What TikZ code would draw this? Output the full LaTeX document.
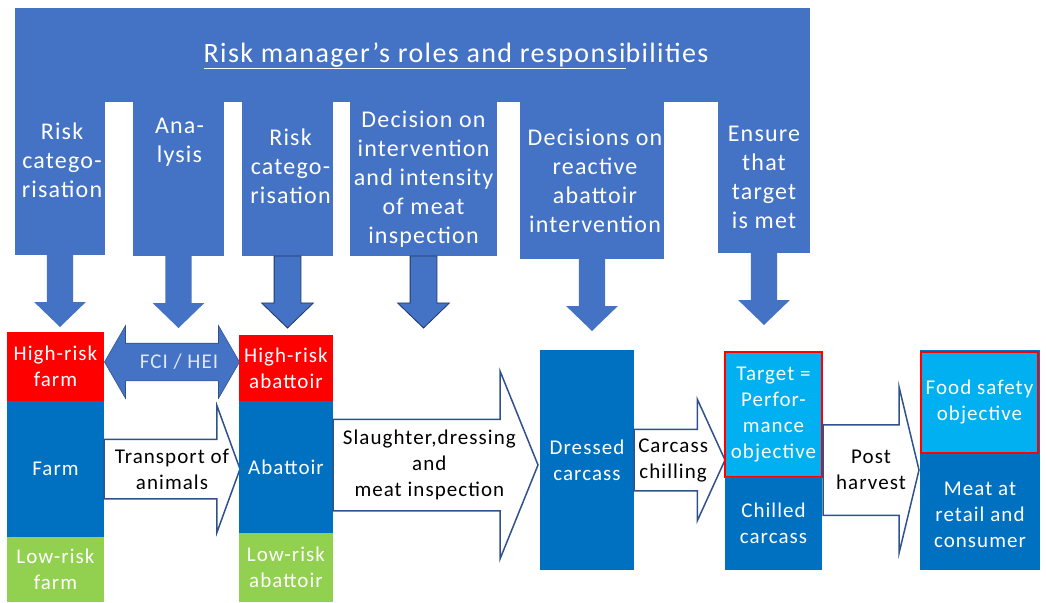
\documentclass[tikz,border=0pt]{standalone}
\usepackage{fontspec}
\setmainfont{Carlito}[LetterSpace=5]
\usetikzlibrary{shapes.arrows,positioning,calc}
\definecolor{rolesblue}{RGB}{68,114,196}
\definecolor{stageblue}{RGB}{0,112,192}
\definecolor{targetblue}{RGB}{0,176,240}
\definecolor{riskred}{RGB}{255,0,0}
\definecolor{riskgreen}{RGB}{146,208,80}
\definecolor{edgeblue}{RGB}{47,82,143}
\definecolor{edgedark}{RGB}{31,56,100}
\definecolor{paleblue}{RGB}{222,232,246}

\begin{document}
\begin{tikzpicture}[
  x=1pt, y=-1pt,
  banner/.style={rectangle, fill=rolesblue, inner sep=0pt, outer sep=0pt, anchor=north west},
  roletext/.style={text=white, align=center, inner sep=0pt,
                   font=\fontsize{24}{29}\selectfont},
  stage/.style={rectangle, fill=stageblue, text=white, align=center, inner sep=0pt,
                outer sep=0pt, anchor=north west, font=\fontsize{21}{26}\selectfont},
  goal/.style={stage, fill=targetblue, draw=riskred, line width=2pt},
  downarr/.style={single arrow, fill=rolesblue, rotate=-90, anchor=tail, outer sep=0pt,
                  inner xsep=0pt, inner ysep=13pt, single arrow head extend=12.5pt,
                  minimum height=72pt, single arrow tip angle=92},
  flowarr/.style={single arrow, fill=white, draw=edgeblue, line width=1.5pt,
                  anchor=tail, outer sep=0pt, inner xsep=0pt},
  flowtext/.style={align=center, inner sep=0pt, font=\fontsize{21}{26}\selectfont}
]
\useasboundingbox (0,0) rectangle (1046,602);

% risk manager banner and its columns
\node[banner, minimum width=795pt, minimum height=94pt] (roles) at (15,8) {};
\node[text=white, font=\fontsize{28}{34}\selectfont] (rolestitle) at (456,56)
  {\underline{Risk manager’s roles and responsi}bilities};
\node[banner, minimum width=90pt, minimum height=153pt] (rc1) at (15,102) {};
\node[banner, minimum width=91pt, minimum height=154pt] (rc2) at (133,102) {};
\node[banner, minimum width=91pt, minimum height=154pt] (rc3) at (242,102) {};
\node[banner, minimum width=147pt, minimum height=154pt] (rc4) at (350,102) {};
\node[banner, minimum width=144pt, minimum height=157pt] (rc5) at (520,102) {};
\node[banner, minimum width=92pt, minimum height=151pt] (rc6) at (718,102) {};

\node[roletext] (rc1t) at ($(rc1.north)+(2,58)$) {Risk\\catego-\\risation};
\node[roletext] (rc2t) at ($(rc2.north)+(1,40)$) {Ana-\\lysis};
\node[roletext] (rc3t) at ($(rc3.north)+(3,64)$) {Risk\\catego-\\risation};
\node[roletext] (rc4t) at (rc4.center) {Decision on\\intervention\\and intensity\\of meat\\inspection};
\node[roletext] (rc5t) at ($(rc5.center)+(3,0)$) {Decisions on\\reactive\\abattoir\\intervention};
\node[roletext] (rc6t) at (rc6.center) {Ensure\\that\\target\\is met};

\node[downarr] (d1) at (rc1.south) {};
\node[downarr] (d2) at (rc2.south) {};
\node[downarr, draw=edgedark, line width=0.8pt] (d3) at (rc3.south) {};
\node[downarr, draw=edgedark, line width=0.8pt] (d4) at (rc4.south) {};
\node[downarr] (d5) at (rc5.south) {};
\node[downarr] (d6) at (rc6.south) {};

% chain from farm to consumer
\node[stage, fill=riskred, minimum width=97pt, minimum height=69pt] (hifarm) at (7,332) {High-risk\\farm};
\node[stage, minimum width=97pt, minimum height=136pt] (farm) at (7,401) {Farm};
\node[stage, fill=riskgreen, minimum width=97pt, minimum height=65pt] (lofarm) at (7,537) {Low-risk\\farm};

\node[flowarr, inner ysep=29pt, single arrow head extend=33.5pt, minimum height=136pt,
      single arrow tip angle=140] (transport) at (farm.east) {};
\node[stage, fill=riskred, minimum width=94pt, minimum height=66pt] (hiab) at (239,335) {High-risk\\abattoir};
\node[stage, minimum width=94pt, minimum height=132pt] (abattoir) at (239,401) {Abattoir};
\node[stage, fill=riskgreen, minimum width=94pt, minimum height=69pt] (loab) at (239,533) {Low-risk\\abattoir};

\node[flowarr, inner ysep=45pt, single arrow head extend=48pt, minimum height=205pt,
      single arrow tip angle=136] (slaughter) at ($(abattoir.east)+(0,-2)$) {};
\node[stage, minimum width=94pt, minimum height=220pt] (dressed) at (540,350) {Dressed\\carcass};

\node[flowarr, inner ysep=30pt, single arrow head extend=30pt, minimum height=91pt,
      single arrow tip angle=131] (chilling) at (dressed.east) {};
\node[goal, minimum width=97pt, minimum height=125pt] (target) at (725,352)
  {Target =\\Perfor-\\mance\\objective};
\node[stage, minimum width=97pt, minimum height=93pt] (chilled) at (725,477) {Chilled\\carcass};

\node[flowarr, inner ysep=44.5pt, single arrow head extend=37.5pt, minimum height=96pt,
      single arrow tip angle=153] (postharvest) at ($(chilled.north east)+(1,-7)$) {};
\node[stage, minimum width=120pt, minimum height=220pt] (meat) at (920,350) {};
\node[stage, anchor=center] (meatt) at ($(meat.south)+(0,-55)$) {Meat at\\retail and\\consumer};
\node[goal, minimum width=117pt, minimum height=101pt] (fso) at (921,352) {Food safety\\objective};

% information exchanged between farm and abattoir
\node[double arrow, fill=rolesblue, draw=edgeblue, line width=0.6pt, outer sep=0pt,
      inner xsep=0pt, inner ysep=18.5pt, double arrow head extend=17.5pt,
      minimum height=135pt, double arrow tip angle=120] (fci) at (172,362) {};
\node[text=paleblue, font=\fontsize{21}{26}\selectfont] (fcit) at ([xshift=7pt]fci.center) {FCI / HEI};

\node[flowtext] (transportt) at ($(transport.tail)!0.5!(transport.tip)$) {Transport of\\animals};
\node[flowtext] (slaughtert) at ($(slaughter.tail)!0.47!(slaughter.tip)$) {Slaughter,dressing\\and\\meat inspection};
\node[flowtext] (chillingt) at ($(chilling.tail)!0.43!(chilling.tip)$) {Carcass\\chilling};
\node[flowtext] (postharvestt) at ($(postharvest.tail)!0.5!(postharvest.tip)$) {Post\\harvest};
\end{tikzpicture}
\end{document}
